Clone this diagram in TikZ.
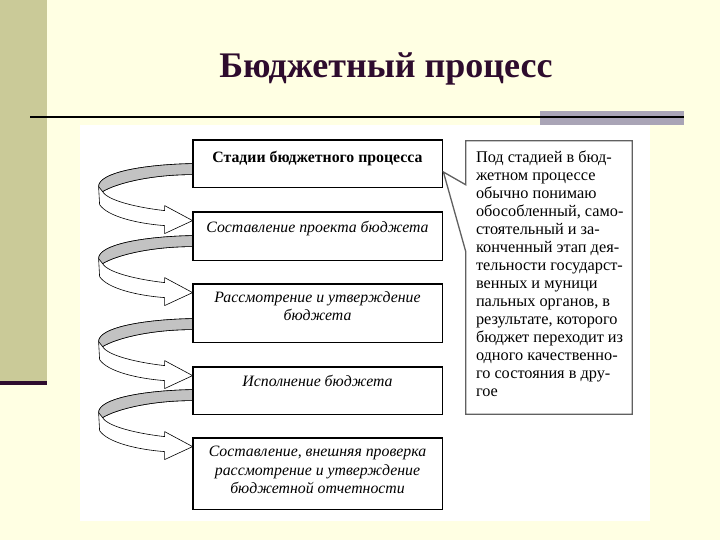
\documentclass[tikz,border=0pt]{standalone}
\usepackage{fontspec}
\setmainfont{Liberation Serif}
\definecolor{SlideYellow}{HTML}{FFFFE3}
\definecolor{SlideOlive}{HTML}{CACA98}
\definecolor{SlidePlum}{HTML}{2E0C2E}
\definecolor{SlideLilac}{HTML}{A9A4B6}
\definecolor{RibbonGray}{HTML}{C2C2C2}
\definecolor{NoteGray}{HTML}{606060}
\usetikzlibrary{positioning,calc}

\newcommand{\stagearrow}[1]{%
  \begin{scope}[shift={($(#1.north west)+(0,9)$)}]
    \filldraw[fill=white, draw=black, line width=0.6pt, line join=round]
      (0,-57) .. controls (-50,-56) and (-94,-48) .. (-94,-34)
      -- (-93,-16) .. controls (-85,-4) and (-55,3) .. (-28,5)
      -- (-28,13) -- (0,0) -- (-28,-15) -- (-28,-10)
      .. controls (-55,-13) and (-85,-20) .. (-90,-29)
      .. controls (-75,-38) and (-40,-46) .. (0,-46);
    \filldraw[fill=RibbonGray, draw=black, line width=0.6pt, line join=round]
      (0,-57) .. controls (-50,-56) and (-94,-48) .. (-94,-34)
      -- (-90,-29) .. controls (-75,-38) and (-40,-46) .. (0,-46);
  \end{scope}}

\begin{document}
\begin{tikzpicture}[x=1pt, y=-1pt,
    stagebox/.style={draw=black, fill=white, line width=0.8pt,
      minimum width=249pt, inner sep=0pt},
    stagetext/.style={font=\fontsize{15.8}{18.5}\selectfont\itshape,
      align=center, inner sep=0pt},
    notetext/.style={font=\fontsize{16.3}{18}\selectfont,
      align=left, inner sep=0pt, anchor=north west}]
    \path[use as bounding box, fill=SlideYellow] (0,0) rectangle (720,540);
    \fill[SlideOlive] (0,0) rectangle (47,381);
    \fill[SlidePlum] (0,381) rectangle (47,385);
    \node[font=\fontsize{36}{40}\selectfont\bfseries, text=SlidePlum,
          anchor=base] (title) at (386,78) {Бюджетный процесс};
    \fill[SlideLilac] (540,111) rectangle (684,125);
    \draw[line width=2.2pt] (30,117) -- (684,117);
    \fill[white] (80,125) rectangle (650,521);

    \node[stagebox, minimum height=47pt] (stage1) at (317.5,163.5) {};
    \node[stagebox, minimum height=48pt] (stage2) at (317.5,236) {};
    \node[stagebox, minimum height=58pt] (stage3) at (317.5,313) {};
    \node[stagebox, minimum height=47pt] (stage4) at (317.5,390.5) {};
    \node[stagebox, minimum height=71pt] (stage5) at (317.5,473.5) {};
    \foreach \n in {2,...,5}{
      \stagearrow{stage\n}
    }
    \foreach \n in {1,...,5}{
      \draw[line width=0.8pt] (stage\n.north west) rectangle (stage\n.south east);
    }

    \node[stagetext, font=\fontsize{15.8}{18.5}\selectfont\bfseries,
          below=11pt of stage1.north] (stage1text) {Стадии бюджетного процесса};
    \node[stagetext, below=9pt of stage2.north] (stage2text)
      {Составление проекта бюджета};
    \node[stagetext, below=7.5pt of stage3.north] (stage3text)
      {Рассмотрение и утверждение\\бюджета};
    \node[stagetext, below=8pt of stage4.north] (stage4text)
      {Исполнение бюджета};
    \node[stagetext, below=8.5pt of stage5.north] (stage5text)
      {Составление, внешняя проверка\\рассмотрение и утверждение\\бюджетной отчетности};

    \node[minimum width=166pt, minimum height=273pt, inner sep=0pt]
      (note) at (549,277.5) {};
    \coordinate (pointer) at ($(stage1.east)+(1,8.5)$);
    \filldraw[fill=white, draw=NoteGray, line width=1.3pt, line join=miter]
      (note.north west) -- (note.north east) -- (note.south east)
      -- (note.south west) -- ($(note.north west)+(0,111)$)
      -- (pointer) -- ($(note.north west)+(0,44)$) -- cycle;
    \node[notetext] (notetext) at ($(note.north west)+(10,10)$)
      {Под стадией в бюд-\\жетном процессе\\обычно понимаю\\обособленный, само-\\стоятельный и за-\\конченный этап дея-\\тельности государст-\\венных и муници\\пальных органов, в\\результате, которого\\бюджет переходит из\\одного качественно-\\го состояния в дру-\\гое};
  \end{tikzpicture}
\end{document}
